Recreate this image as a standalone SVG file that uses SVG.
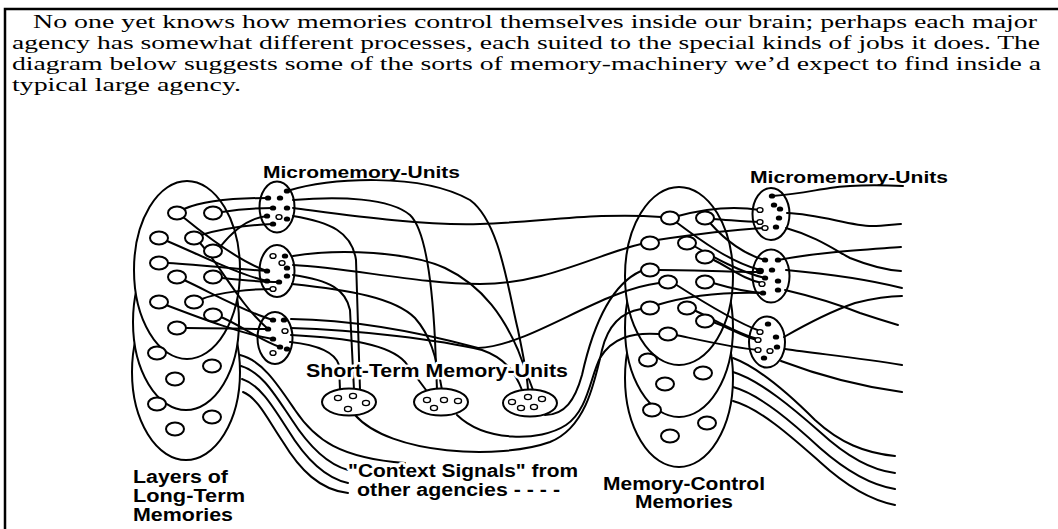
<svg xmlns="http://www.w3.org/2000/svg" width="1058" height="529" viewBox="0 0 1058 529">
<style>
.o{fill:#fff;stroke:#000;stroke-width:2}
.w{fill:none;stroke:#000;stroke-width:2;stroke-linecap:round}
.u{fill:none;stroke:#000;stroke-width:2}
.s{fill:#fff;stroke:#000;stroke-width:2}
.d{fill:#000}
.h{fill:#fff;stroke:#000;stroke-width:1.4}
.c{fill:#fff;stroke:#000;stroke-width:2}
.p{font-family:"Liberation Serif",serif;font-size:18.5px;fill:#000}
.l{font-family:"Liberation Sans",Arial,sans-serif;font-weight:bold;fill:#000}
.lh{font-family:"Liberation Sans",Arial,sans-serif;font-weight:bold;fill:#000;stroke:#fff;stroke-width:5;paint-order:stroke;stroke-linejoin:round}
</style>
<rect width="1058" height="529" fill="#fff"/>
<path d="M5,529 V9 H1058" fill="none" stroke="#000" stroke-width="2.5"/>
<g id="paragraph">
<text class="p" x="33" y="28" textLength="1004" lengthAdjust="spacingAndGlyphs">No one yet knows how memories control themselves inside our brain; perhaps each major</text>
<text class="p" x="12" y="49" textLength="1028" lengthAdjust="spacingAndGlyphs">agency has somewhat different processes, each suited to the special kinds of jobs it does. The</text>
<text class="p" x="12" y="70" textLength="1029" lengthAdjust="spacingAndGlyphs">diagram below suggests some of the sorts of memory-machinery we’d expect to find inside a</text>
<text class="p" x="12" y="91" textLength="229" lengthAdjust="spacingAndGlyphs">typical large agency.</text>
</g>
<g id="long-term-layers">
<ellipse class="o" cx="186" cy="372" rx="54" ry="88"/>
<ellipse class="o" cx="186" cy="322" rx="53" ry="88"/>
<ellipse class="o" cx="187" cy="270" rx="53" ry="89"/>
</g>
<g id="memory-control-layers">
<ellipse class="o" cx="679" cy="378" rx="54" ry="89"/>
<ellipse class="o" cx="679" cy="328" rx="54" ry="89"/>
<ellipse class="o" cx="679" cy="276" rx="54" ry="89"/>
</g>
<g id="connectors">
<path class="w" d="M184,209 C205,200 240,198 268,198"/>
<path class="w" d="M222,212 C240,209 255,208 273,208"/>
<path class="w" d="M183,217 C205,235 240,262 267,271"/>
<path class="w" d="M167,241 C200,255 240,275 267,281"/>
<path class="w" d="M200,243 C220,265 240,305 268,329"/>
<path class="w" d="M220,247 C232,232 248,218 267,216"/>
<path class="w" d="M168,263 C200,265 240,269 267,271"/>
<path class="w" d="M184,280 C210,292 245,312 273,320"/>
<path class="w" d="M222,278 C240,280 260,282 279,282"/>
<path class="w" d="M166,305 C200,318 245,335 273,339"/>
<path class="w" d="M202,299 C220,292 250,289 273,289"/>
<path class="w" d="M221,317 C240,325 260,340 280,347"/>
<path class="w" d="M186,328 C215,328 245,329 268,329"/>
<path class="w" d="M201,235 C225,228 250,225 273,224"/>
<path class="w" d="M287,191 C330,178 420,172 470,200 C500,222 508,290 518,330 C523,355 527,372 528,390"/>
<path class="w" d="M293,200 C340,196 390,198 410,215 C428,232 433,300 435,340 L437,390"/>
<path class="w" d="M293,208 C340,214 420,226 480,224 C540,222 600,212 661,217"/>
<path class="w" d="M293,216 C330,222 352,232 356,260 L360,390"/>
<path class="w" d="M293,256 C340,248 410,252 445,268 C485,287 505,320 518,350 L533,390"/>
<path class="w" d="M293,265 C350,268 420,284 480,284 C545,284 595,255 641,244"/>
<path class="w" d="M293,275 C330,280 346,290 350,310 L354,390"/>
<path class="w" d="M292,284 C350,290 395,298 415,318 C430,335 436,355 442,390"/>
<path class="w" d="M291,319 C360,320 430,335 478,348 C530,346 600,290 659,283"/>
<path class="w" d="M291,328 C360,330 440,340 482,350 C505,358 515,372 522,390"/>
<path class="w" d="M291,335 C350,338 390,345 405,362 L426,390"/>
<path class="w" d="M290,342 C318,345 335,352 339,365 L340,390"/>
<path class="w" d="M355,415 C390,455 500,460 550,442 C585,428 594,385 602,350 C608,325 622,312 641,309"/>
<path class="w" d="M457,415 C485,442 540,442 566,425 C588,410 590,378 600,358 C612,338 632,332 659,334"/>
<path class="w" d="M545,415 C565,415 575,400 582,375 C592,330 610,285 641,271"/>
<path class="w" d="M240,355 C262,360 278,385 295,410 C315,440 340,458 405,463"/>
<path class="w" d="M241,366 C262,372 275,395 292,420 C310,448 330,465 348,470"/>
<path class="w" d="M242,379 C260,385 272,405 288,430 C305,458 325,478 348,483"/>
<path class="w" d="M243,392 C258,398 268,420 283,442 C300,470 320,490 348,493"/>
<path class="w" d="M678,216 C700,210 730,205 760,210"/>
<path class="w" d="M713,219 C730,220 745,222 760,222"/>
<path class="w" d="M657,240 C690,235 730,230 764,228"/>
<path class="w" d="M676,222 C700,240 730,262 760,270"/>
<path class="w" d="M694,246 C715,258 740,272 765,278"/>
<path class="w" d="M712,259 C730,268 745,280 762,283"/>
<path class="w" d="M658,270 C700,270 735,272 760,272"/>
<path class="w" d="M675,284 C700,300 735,322 760,331"/>
<path class="w" d="M713,283 C730,288 745,292 763,293"/>
<path class="w" d="M657,305 C690,295 730,292 763,293"/>
<path class="w" d="M694,310 C715,320 740,335 758,339"/>
<path class="w" d="M713,322 C730,328 745,338 758,340"/>
<path class="w" d="M676,335 C700,340 735,348 758,350"/>
<path class="w" d="M711,224 C725,240 745,255 765,260"/>
<path class="w" d="M772,196 C800,194 815,190 830,188 C850,185 880,185 903,186"/>
<path class="w" d="M787,213 C820,214 850,226 872,226 C885,226 895,224 901,224"/>
<path class="w" d="M786,228 C815,236 835,250 850,258 C870,266 885,270 901,271"/>
<path class="w" d="M778,260 C820,252 860,250 901,247"/>
<path class="w" d="M786,270 C830,274 870,280 902,288"/>
<path class="w" d="M785,290 C815,297 840,305 860,313 C875,318 888,322 898,325"/>
<path class="w" d="M784,337 C810,322 835,310 855,303 C875,298 890,296 902,296"/>
<path class="w" d="M785,349 C820,354 860,358 902,365"/>
<path class="w" d="M781,361 C810,372 850,385 902,392"/>
<path class="w" d="M733,358 C760,368 790,395 815,420 C840,443 865,453 895,456"/>
<path class="w" d="M733,372 C760,380 795,410 820,432 C845,455 870,470 895,473"/>
<path class="w" d="M733,387 C760,394 795,425 820,448 C845,470 870,485 895,489"/>
<path class="w" d="M733,401 C760,408 795,440 820,462 C845,485 870,500 895,505"/>
</g>
<g id="long-term-memories">
<ellipse class="c" cx="177" cy="213" rx="9" ry="6.5"/>
<ellipse class="c" cx="213" cy="213" rx="9" ry="6.5"/>
<ellipse class="c" cx="159" cy="238" rx="9" ry="6.5"/>
<ellipse class="c" cx="194" cy="238" rx="9" ry="6.5"/>
<ellipse class="c" cx="213" cy="251" rx="9" ry="6.5"/>
<ellipse class="c" cx="159" cy="263" rx="9" ry="6.5"/>
<ellipse class="c" cx="177" cy="277" rx="9" ry="6.5"/>
<ellipse class="c" cx="213" cy="277" rx="9" ry="6.5"/>
<ellipse class="c" cx="159" cy="302" rx="9" ry="6.5"/>
<ellipse class="c" cx="194" cy="302" rx="9" ry="6.5"/>
<ellipse class="c" cx="213" cy="315" rx="9" ry="6.5"/>
<ellipse class="c" cx="177" cy="328" rx="9" ry="6.5"/>
<ellipse class="c" cx="157" cy="353" rx="9" ry="6.5"/>
<ellipse class="c" cx="212" cy="366" rx="9" ry="6.5"/>
<ellipse class="c" cx="175" cy="379" rx="9" ry="6.5"/>
<ellipse class="c" cx="157" cy="404" rx="9" ry="6.5"/>
<ellipse class="c" cx="212" cy="417" rx="9" ry="6.5"/>
<ellipse class="c" cx="175" cy="429" rx="9" ry="6.5"/>
</g>
<g id="memory-control-memories">
<ellipse class="c" cx="670" cy="218" rx="9" ry="6.5"/>
<ellipse class="c" cx="705" cy="218" rx="9" ry="6.5"/>
<ellipse class="c" cx="650" cy="243" rx="9" ry="6.5"/>
<ellipse class="c" cx="687" cy="243" rx="9" ry="6.5"/>
<ellipse class="c" cx="705" cy="257" rx="9" ry="6.5"/>
<ellipse class="c" cx="650" cy="270" rx="9" ry="6.5"/>
<ellipse class="c" cx="668" cy="282" rx="9" ry="6.5"/>
<ellipse class="c" cx="705" cy="282" rx="9" ry="6.5"/>
<ellipse class="c" cx="650" cy="308" rx="9" ry="6.5"/>
<ellipse class="c" cx="687" cy="308" rx="9" ry="6.5"/>
<ellipse class="c" cx="705" cy="321" rx="9" ry="6.5"/>
<ellipse class="c" cx="668" cy="334" rx="9" ry="6.5"/>
<ellipse class="c" cx="648" cy="360" rx="9" ry="6.5"/>
<ellipse class="c" cx="703" cy="373" rx="9" ry="6.5"/>
<ellipse class="c" cx="665" cy="384" rx="9" ry="6.5"/>
<ellipse class="c" cx="652" cy="410" rx="9" ry="6.5"/>
<ellipse class="c" cx="707" cy="423" rx="9" ry="6.5"/>
<ellipse class="c" cx="670" cy="436" rx="9" ry="6.5"/>
</g>
<g id="micro-left-1">
<ellipse class="u" cx="277" cy="207" rx="17.5" ry="25.5"/>
<ellipse class="d" cx="287" cy="191" rx="3.2" ry="2.6"/><ellipse class="d" cx="268" cy="198" rx="3.2" ry="2.6"/><ellipse class="d" cx="280" cy="198" rx="3.2" ry="2.6"/><ellipse class="d" cx="273" cy="208" rx="3.2" ry="2.6"/><ellipse class="d" cx="287" cy="208" rx="3.2" ry="2.6"/><ellipse class="d" cx="267" cy="216" rx="3.2" ry="2.6"/><ellipse class="h" cx="279" cy="217" rx="3" ry="2.4"/><ellipse class="d" cx="287" cy="219" rx="3.2" ry="2.6"/><ellipse class="d" cx="273" cy="224" rx="3.2" ry="2.6"/>
</g>
<g id="micro-left-2">
<ellipse class="u" cx="277" cy="271" rx="17.5" ry="26"/>
<ellipse class="h" cx="273" cy="256" rx="3" ry="2.4"/><ellipse class="d" cx="285" cy="256" rx="3.2" ry="2.6"/><ellipse class="h" cx="282" cy="263" rx="3" ry="2.4"/><ellipse class="d" cx="287" cy="268" rx="3.2" ry="2.6"/><ellipse class="d" cx="267" cy="271" rx="3.2" ry="2.6"/><ellipse class="d" cx="287" cy="276" rx="3.2" ry="2.6"/><ellipse class="d" cx="267" cy="281" rx="3.2" ry="2.6"/><ellipse class="d" cx="279" cy="282" rx="3.2" ry="2.6"/><ellipse class="h" cx="273" cy="289" rx="3" ry="2.4"/>
</g>
<g id="micro-left-3">
<ellipse class="u" cx="275" cy="338" rx="17.5" ry="26"/>
<ellipse class="d" cx="273" cy="320" rx="3.2" ry="2.6"/><ellipse class="d" cx="284" cy="320" rx="3.2" ry="2.6"/><ellipse class="d" cx="268" cy="329" rx="3.2" ry="2.6"/><ellipse class="h" cx="285" cy="331" rx="3" ry="2.4"/><ellipse class="d" cx="273" cy="339" rx="3.2" ry="2.6"/><ellipse class="d" cx="280" cy="347" rx="3.2" ry="2.6"/><ellipse class="d" cx="287" cy="349" rx="3.2" ry="2.6"/><ellipse class="h" cx="273" cy="353" rx="3" ry="2.4"/>
</g>
<g id="micro-right-1">
<ellipse class="u" cx="771" cy="214" rx="18.5" ry="26"/>
<ellipse class="d" cx="772" cy="196" rx="3.2" ry="2.6"/><ellipse class="d" cx="774" cy="205" rx="3.2" ry="2.6"/><ellipse class="h" cx="760" cy="210" rx="3" ry="2.4"/><ellipse class="d" cx="780" cy="209" rx="3.2" ry="2.6"/><ellipse class="h" cx="760" cy="222" rx="3" ry="2.4"/><ellipse class="d" cx="779" cy="218" rx="3.2" ry="2.6"/><ellipse class="h" cx="765" cy="228" rx="3" ry="2.4"/><ellipse class="d" cx="776" cy="227" rx="3.2" ry="2.6"/>
</g>
<g id="micro-right-2">
<ellipse class="u" cx="771" cy="276" rx="18.5" ry="26.5"/>
<ellipse class="d" cx="765" cy="260" rx="3.2" ry="2.6"/><ellipse class="d" cx="778" cy="260" rx="3.2" ry="2.6"/><ellipse class="d" cx="760" cy="271" rx="4" ry="3.2"/><ellipse class="d" cx="772" cy="270" rx="3.2" ry="2.6"/><ellipse class="d" cx="765" cy="278" rx="3.2" ry="2.6"/><ellipse class="d" cx="778" cy="281" rx="3.2" ry="2.6"/><ellipse class="h" cx="762" cy="284" rx="3" ry="2.4"/><ellipse class="d" cx="763" cy="293" rx="3.2" ry="2.6"/><ellipse class="d" cx="778" cy="290" rx="3.2" ry="2.6"/>
</g>
<g id="micro-right-3">
<ellipse class="u" cx="767" cy="342" rx="18" ry="25.5"/>
<ellipse class="d" cx="768" cy="324" rx="3.2" ry="2.6"/><ellipse class="h" cx="760" cy="332" rx="3" ry="2.4"/><ellipse class="h" cx="758" cy="340" rx="3" ry="2.4"/><ellipse class="d" cx="776" cy="337" rx="3.2" ry="2.6"/><ellipse class="d" cx="777" cy="347" rx="3.2" ry="2.6"/><ellipse class="h" cx="758" cy="350" rx="3" ry="2.4"/><ellipse class="h" cx="770" cy="351" rx="3" ry="2.4"/><ellipse class="d" cx="764" cy="358" rx="3.2" ry="2.6"/>
</g>
<g id="short-term-1">
<ellipse class="s" cx="349" cy="402" rx="27" ry="13.5"/>
<ellipse class="h" cx="338" cy="398" rx="3.5" ry="2.6"/><ellipse class="h" cx="353" cy="396" rx="3.5" ry="2.6"/><ellipse class="h" cx="366" cy="403" rx="3.5" ry="2.6"/><ellipse class="h" cx="348" cy="409" rx="3.5" ry="2.6"/>
</g>
<g id="short-term-2">
<ellipse class="s" cx="441" cy="402" rx="27" ry="13.5"/>
<ellipse class="h" cx="427" cy="400" rx="3.5" ry="2.6"/><ellipse class="h" cx="444" cy="400" rx="3.5" ry="2.6"/><ellipse class="h" cx="458" cy="401" rx="3.5" ry="2.6"/><ellipse class="h" cx="434" cy="408" rx="3.5" ry="2.6"/>
</g>
<g id="short-term-3">
<ellipse class="s" cx="530" cy="403" rx="27" ry="13.5"/>
<ellipse class="h" cx="512" cy="402" rx="3.5" ry="2.6"/><ellipse class="h" cx="528" cy="397" rx="3.5" ry="2.6"/><ellipse class="h" cx="542" cy="399" rx="3.5" ry="2.6"/><ellipse class="h" cx="521" cy="408" rx="3.5" ry="2.6"/><ellipse class="h" cx="534" cy="407" rx="3.5" ry="2.6"/>
</g>
<g id="labels">
<text class="l" x="263" y="178" font-size="17" textLength="197" lengthAdjust="spacingAndGlyphs">Micromemory-Units</text>
<text class="l" x="750" y="183" font-size="17" textLength="198" lengthAdjust="spacingAndGlyphs">Micromemory-Units</text>
<text class="lh" x="306" y="377" font-size="19" textLength="262" lengthAdjust="spacingAndGlyphs">Short-Term Memory-Units</text>
<text class="lh" x="348" y="477" font-size="18" textLength="230" lengthAdjust="spacingAndGlyphs">"Context Signals" from</text>
<text class="lh" x="357" y="496" font-size="18" textLength="203" lengthAdjust="spacingAndGlyphs">other agencies - - - -</text>
<text class="l" x="133" y="483" font-size="18" textLength="95" lengthAdjust="spacingAndGlyphs">Layers of</text>
<text class="l" x="133" y="502" font-size="18" textLength="112" lengthAdjust="spacingAndGlyphs">Long-Term</text>
<text class="l" x="133" y="521" font-size="18" textLength="100" lengthAdjust="spacingAndGlyphs">Memories</text>
<text class="l" x="603" y="490" font-size="18" textLength="162" lengthAdjust="spacingAndGlyphs">Memory-Control</text>
<text class="l" x="635" y="508" font-size="18" textLength="98" lengthAdjust="spacingAndGlyphs">Memories</text>
</g>
</svg>
